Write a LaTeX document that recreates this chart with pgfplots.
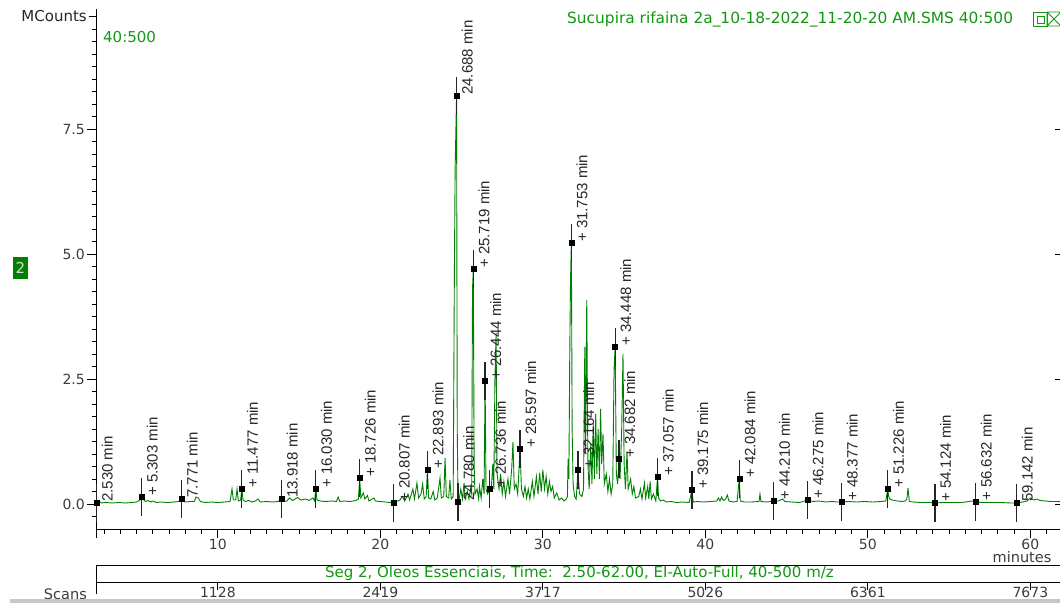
\documentclass[border=0pt]{standalone}
\usepackage{pgfplots}
\pgfplotsset{compat=1.18}
\usepackage{pgfplotstable}
\usepackage{fontspec}
\setmainfont{DejaVu Sans}
\newfontfamily\peakfont{Liberation Sans}

\definecolor{trace}{RGB}{0,128,0}
\definecolor{txtgreen}{RGB}{20,150,20}
\definecolor{ticktext}{RGB}{60,60,60}

% integrated peaks: retention time (min), apex height (MCounts), label
\pgfplotstableread[col sep=comma]{
rt,h,lab
2.530,0.02,2.530 min
5.303,0.14,+ 5.303 min
7.771,0.10,7.771 min
11.477,0.30,+ 11.477 min
13.918,0.10,13.918 min
16.030,0.30,+ 16.030 min
18.726,0.52,+ 18.726 min
20.807,0.02,+ 20.807 min
22.893,0.68,+ 22.893 min
24.688,8.16,24.688 min
24.780,0.04,24.780 min
25.719,4.70,+ 25.719 min
26.444,2.46,+ 26.444 min
26.736,0.30,+ 26.736 min
28.597,1.10,+ 28.597 min
31.753,5.22,+ 31.753 min
32.164,0.68,+ 32.164 min
34.448,3.14,+ 34.448 min
34.682,0.90,+ 34.682 min
37.057,0.54,+ 37.057 min
39.175,0.28,+ 39.175 min
42.084,0.50,+ 42.084 min
44.210,0.06,+ 44.210 min
46.275,0.08,+ 46.275 min
48.377,0.04,+ 48.377 min
51.226,0.30,+ 51.226 min
54.124,0.02,+ 54.124 min
56.632,0.04,+ 56.632 min
59.142,0.02,59.142 min
}\peaks

\begin{document}
\begin{tikzpicture}[x=1pt,y=1pt]
\path[use as bounding box] (0,0) rectangle (1060,603);
\clip (0,0) rectangle (1060,603);

% ---- chromatogram (TIC 40:500) ----
\begin{axis}[
  at={(96pt,74pt)}, anchor=south west, scale only axis,
  width=966.875pt, height=520pt,
  xmin=2.5, xmax=62, ymin=-0.5, ymax=9.9,
  axis x line*=bottom, axis y line*=left,
  axis line style={-, black, line width=0.8pt},
  tick align=outside, major tick length=9pt, minor tick length=4.5pt,
  every tick/.style={black, line width=0.8pt},
  xtick={10,20,30,40,50,60}, xticklabels={10,20,30,40,50,60},
  minor xtick={3,4,...,62},
  extra x ticks={2.5}, extra x tick labels={},
  ytick={0,2.5,5,7.5}, yticklabels={0.0,2.5,5.0,7.5},
  minor ytick={-0.25,0,0.25,...,9.5},
  extra y ticks={9.75}, extra y tick labels={MCounts},
  extra y tick style={major tick length=7pt, yticklabel style={text=black!85, font=\fontsize{15}{15}\selectfont}},
  tick label style={font=\fontsize{14}{14}\selectfont, text=ticktext},
  xticklabel style={inner sep=1pt},
  yticklabel style={inner sep=2pt},
]
\addplot[trace, line width=0.9pt] coordinates {
(2.50,0.00)(2.53,0.02)(2.70,0.05)(2.85,0.02)(3.10,0.03)(3.50,0.02)(3.90,0.03)(4.30,0.02)(4.70,0.03)(5.00,0.04)
(5.20,0.08)(5.303,0.14)(5.40,0.10)(5.55,0.05)(5.70,0.07)(5.85,0.04)(6.00,0.06)(6.20,0.03)(6.50,0.04)(6.90,0.03)
(7.30,0.04)(7.60,0.05)(7.771,0.10)(7.85,0.06)(8.00,0.04)(8.30,0.05)(8.55,0.05)(8.65,0.14)(8.80,0.12)(8.92,0.05)
(9.20,0.03)(9.60,0.04)(10.00,0.03)(10.40,0.04)(10.75,0.05)(10.87,0.30)(10.95,0.08)(11.10,0.08)(11.18,0.30)(11.26,0.06)
(11.40,0.08)(11.477,0.30)(11.55,0.08)(11.70,0.05)(11.90,0.07)(12.10,0.04)(12.30,0.06)(12.47,0.10)(12.60,0.04)(13.00,0.05)
(13.40,0.04)(13.70,0.05)(13.918,0.10)(14.05,0.05)(14.25,0.06)(14.40,0.12)(14.60,0.07)(14.90,0.13)(15.10,0.08)(15.40,0.10)
(15.60,0.07)(15.85,0.12)(15.95,0.06)(16.030,0.30)(16.10,0.08)(16.30,0.06)(16.60,0.05)(17.00,0.06)(17.30,0.05)(17.40,0.14)
(17.50,0.05)(17.80,0.06)(18.10,0.05)(18.50,0.07)(18.65,0.10)(18.726,0.52)(18.80,0.12)(18.95,0.22)(19.05,0.10)(19.20,0.17)
(19.30,0.06)(19.60,0.12)(19.70,0.06)(19.95,0.05)(20.30,0.04)(20.60,0.03)(20.807,0.02)(21.00,0.05)(21.20,0.08)(21.35,0.15)
(21.50,0.06)(21.70,0.20)(21.80,0.08)(22.00,0.30)(22.10,0.10)(22.25,0.42)(22.35,0.12)(22.50,0.20)(22.60,0.40)(22.70,0.10)
(22.82,0.15)(22.893,0.68)(22.97,0.12)(23.10,0.10)(23.25,0.25)(23.35,0.08)(23.50,0.12)(23.67,0.52)(23.75,0.12)(23.90,0.15)
(23.98,0.92)(24.06,0.15)(24.20,0.12)(24.28,0.48)(24.36,0.10)(24.48,0.15)(24.55,4.40)(24.60,6.70)(24.688,8.16)(24.73,1.50)
(24.780,0.04)(24.85,0.10)(24.95,0.30)(25.05,0.10)(25.15,0.42)(25.22,0.10)(25.35,0.25)(25.45,0.10)(25.55,0.30)(25.62,0.20)
(25.67,4.30)(25.719,4.70)(25.77,0.80)(25.82,0.20)(25.95,0.30)(26.05,0.10)(26.10,0.35)(26.20,0.12)(26.30,0.50)(26.38,0.20)
(26.444,2.46)(26.50,0.30)(26.60,0.20)(26.736,0.30)(26.82,0.30)(26.92,0.80)(26.98,0.30)(27.05,2.50)(27.12,3.42)(27.18,0.60)
(27.30,0.30)(27.40,0.60)(27.50,0.20)(27.60,0.45)(27.70,0.15)(27.85,0.50)(27.95,0.20)(28.08,0.70)(28.16,1.24)(28.24,0.30)
(28.35,0.40)(28.45,0.20)(28.597,1.10)(28.68,0.30)(28.80,0.15)(28.90,0.35)(29.00,0.12)(29.10,0.30)(29.20,0.10)(29.35,0.45)
(29.45,0.15)(29.60,0.55)(29.70,0.20)(29.80,0.62)(29.90,0.25)(30.00,0.68)(30.10,0.30)(30.20,0.55)(30.30,0.20)(30.40,0.45)
(30.50,0.25)(30.60,0.35)(30.70,0.12)(30.85,0.22)(31.00,0.08)(31.15,0.12)(31.30,0.06)(31.45,0.10)(31.51,0.15)(31.55,0.90)
(31.60,0.50)(31.65,2.84)(31.70,4.48)(31.753,5.22)(31.80,1.50)(31.86,0.40)(31.95,0.15)(32.05,0.10)(32.164,0.68)(32.25,0.20)
(32.40,0.15)(32.50,0.30)(32.58,3.14)(32.63,1.00)(32.70,4.08)(32.77,0.80)(32.85,0.30)(32.95,1.20)(33.02,0.40)(33.10,1.60)
(33.17,0.50)(33.25,1.80)(33.32,0.60)(33.40,1.50)(33.48,0.50)(33.55,1.90)(33.62,0.80)(33.70,1.40)(33.78,0.40)(33.90,0.60)
(34.00,0.25)(34.10,0.50)(34.20,0.20)(34.30,0.40)(34.38,2.70)(34.448,3.14)(34.52,0.60)(34.60,0.40)(34.682,0.90)(34.75,0.50)
(34.85,1.50)(34.93,3.00)(35.00,0.80)(35.08,0.30)(35.18,1.05)(35.25,0.30)(35.40,0.50)(35.50,0.20)(35.60,0.35)(35.70,0.12)
(35.90,0.15)(36.00,0.30)(36.10,0.10)(36.25,0.42)(36.32,0.12)(36.45,0.35)(36.52,0.10)(36.60,0.45)(36.68,0.10)(36.80,0.20)
(36.95,0.06)(37.057,0.54)(37.12,0.12)(37.25,0.06)(37.40,0.08)(37.60,0.04)(37.90,0.05)(38.20,0.03)(38.60,0.04)(39.00,0.03)
(39.175,0.28)(39.25,0.04)(39.50,0.05)(39.90,0.04)(40.30,0.05)(40.70,0.06)(40.80,0.12)(40.90,0.06)(41.00,0.14)(41.10,0.07)
(41.25,0.10)(41.35,0.18)(41.45,0.06)(41.70,0.04)(41.95,0.05)(42.084,0.50)(42.15,0.06)(42.40,0.04)(42.80,0.04)(43.30,0.05)
(43.36,0.20)(43.42,0.05)(43.80,0.04)(44.210,0.06)(44.50,0.06)(44.75,0.10)(44.90,0.05)(45.30,0.04)(45.80,0.03)(46.275,0.08)
(46.60,0.05)(47.00,0.06)(47.40,0.04)(47.80,0.05)(48.10,0.04)(48.377,0.04)(48.80,0.05)(49.30,0.04)(49.80,0.05)(50.30,0.04)
(50.80,0.05)(51.10,0.06)(51.226,0.30)(51.28,0.15)(51.35,0.10)(51.50,0.08)(51.80,0.06)(52.10,0.05)(52.30,0.06)(52.40,0.10)
(52.47,0.32)(52.55,0.05)(52.80,0.04)(53.30,0.03)(53.80,0.03)(54.124,0.02)(54.60,0.03)(55.20,0.03)(55.80,0.03)(56.20,0.05)
(56.40,0.06)(56.632,0.04)(57.00,0.03)(57.60,0.03)(58.20,0.03)(58.80,0.02)(59.142,0.02)(59.50,0.04)(59.80,0.06)(60.00,0.12)
(60.20,0.08)(60.40,0.10)(60.60,0.07)(60.90,0.06)(61.30,0.05)(61.70,0.05)(62.00,0.04)
};
% peak markers with their retention-time labels
\addplot[only marks, mark=square*, mark size=2.5pt, black,
  nodes near coords, point meta=explicit symbolic,
  every node near coord/.append style={font=\peakfont\fontsize{15}{15}\selectfont,
    text=black!85, inner sep=0pt, xshift=5pt, yshift=1pt, rotate=90, anchor=north west},
  error bars/.cd, y dir=both, y fixed=0.38, error mark=none,
  error bar style={line width=1.2pt, black!85}]
  table[x=rt, y=h, meta=lab] {\peaks};
\end{axis}

% right-hand ticks
\foreach \yy in {99,224,349,474} \draw[black, line width=0.8pt] (1055,\yy) -- (1063,\yy);
\node[font=\fontsize{14.5}{14.5}\selectfont, text=ticktext, inner sep=0pt] at (1022,46) {minutes};

% ---- scan / segment bar ----
\begin{axis}[
  at={(96pt,21pt)}, anchor=south west, scale only axis,
  width=966.875pt, height=17pt,
  xmin=2.5, xmax=62, ymin=0, ymax=1,
  axis line style={black, line width=0.8pt},
  ytick=\empty, xtick pos=bottom, tick align=outside,
  major tick length=8pt, every tick/.style={black, line width=0.8pt},
  xtick={10,20,30,40,50,60}, xticklabels={1128,2419,3717,5026,6361,7673},
  extra x ticks={2.5}, extra x tick labels={}, extra x tick style={major tick length=12pt},
  tick label style={font=\fontsize{14}{14}\selectfont, text=ticktext},
  xticklabel style={inner sep=0pt, yshift=3pt},
]
\node[text=txtgreen, font=\fontsize{15}{15}\selectfont, inner sep=0pt] at (axis cs:32.25,0.5)
  {Seg 2, Oleos Essenciais, Time:\ \ 2.50-62.00, EI-Auto-Full, 40-500 m/z};
\end{axis}
\node[anchor=east, font=\fontsize{14.5}{14.5}\selectfont, text=ticktext, inner sep=0pt] at (87,9) {Scans};

% ---- header texts ----
\node[anchor=west, text=txtgreen, font=\fontsize{15.4}{15.4}\selectfont, inner sep=0pt] at (567,584)
  {Sucupira rifaina 2a\_10-18-2022\_11-20-20 AM.SMS 40:500};
\node[anchor=west, text=txtgreen, font=\fontsize{15}{15}\selectfont, inner sep=0pt] at (103,566) {40:500};
\node[fill=trace, text=white!85!black, minimum width=15pt, minimum height=22pt, inner sep=0pt,
  font=\fontsize{15}{15}\selectfont] at (20.5,335) {2};
\draw[txtgreen, line width=0.8pt] (1033,577) rectangle (1047,591);
\draw[txtgreen, line width=0.8pt] (1037,580) rectangle (1044,587);
\draw[txtgreen, line width=0.8pt] (1047,577) rectangle (1061,591) (1047,577) -- (1061,591) (1047,591) -- (1061,577);

% status strip
\fill[black!22] (10,0) rectangle (1060,4);
\end{tikzpicture}
\end{document}
